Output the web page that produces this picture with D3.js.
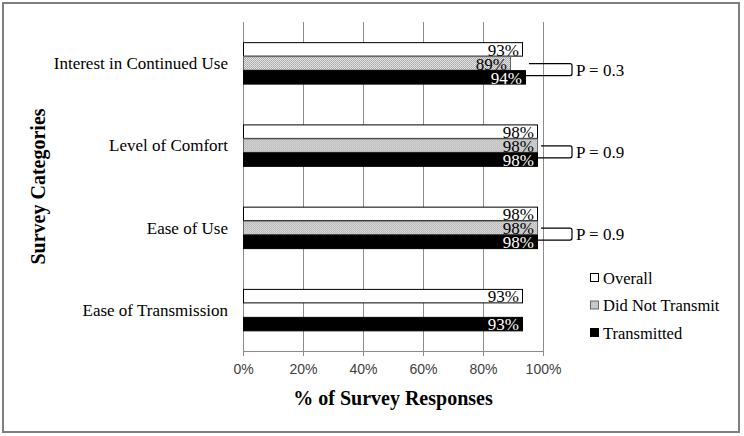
<!DOCTYPE html>
<html lang="en">
<head>
  <meta charset="utf-8">
  <title>Survey Responses</title>
  <script src="https://cdn.jsdelivr.net/npm/d3@7/dist/d3.min.js"></script>
  <style>
    body { margin: 0; background: #fff; }
    .serif { font-family: "Liberation Serif", "Times New Roman", serif; }
    .grid line { stroke: #8c8c8c; stroke-width: 1px; shape-rendering: crispEdges; }
    .axis--x text { font-family: "Liberation Sans", Arial, sans-serif; font-size: 14px; fill: #404040; }
    .axis--x path, .axis--x line { stroke: #8c8c8c; shape-rendering: crispEdges; }
  </style>
</head>
<body>
<svg width="744" height="436"></svg>
<script>
  // data
  var categories = ["Interest in Continued Use", "Level of Comfort", "Ease of Use", "Ease of Transmission"];
  var overall = [93, 98, 98, 93];
  var didNotTransmit = [89, 98, 98, null];
  var transmitted = [94, 98, 98, 93];
  var pLabels = ["P = 0.3", "P = 0.9", "P = 0.9", null];
  var seriesNames = ["Overall", "Did Not Transmit", "Transmitted"];
  var xTicks = [0, 20, 40, 60, 80, 100];

  var svg = d3.select("svg"),
      margin = {top: 22, left: 243, right: 201, bottom: 85},
      width = 744 - margin.left - margin.right,
      height = 436 - margin.top - margin.bottom;

  // dotted fill for "Did Not Transmit"
  var pat = svg.append("defs").append("pattern")
      .attr("id", "dots").attr("width", 2).attr("height", 2)
      .attr("patternUnits", "userSpaceOnUse");
  pat.append("rect").attr("width", 2).attr("height", 2).attr("fill", "#f0f0f0");
  pat.append("rect").attr("width", 1).attr("height", 1).attr("fill", "#9a9a9a");
  pat.append("rect").attr("x", 1).attr("y", 1).attr("width", 1).attr("height", 1).attr("fill", "#a8a8a8");

  var fills = ["#fff", "url(#dots)", "#000"],
      strokes = ["#000", "#666", "#000"],
      textFill = ["#000", "#000", "#fff"];

  // outer frame
  svg.append("rect")
      .attr("x", 3).attr("y", 3).attr("width", 736).attr("height", 429)
      .attr("fill", "none").attr("stroke", "#7f7f7f").attr("stroke-width", 2);

  var g = svg.append("g").attr("transform", "translate(" + margin.left + "," + margin.top + ")");

  var x = d3.scaleLinear().domain([0, 100]).range([0, width]);
  var y = d3.scaleBand().domain(categories).range([0, height])
      .paddingInner(0.49).paddingOuter(0.245);
  var ySub = d3.scaleBand().domain(seriesNames).range([0, y.bandwidth()]);

  g.append("g").attr("class", "grid")
    .selectAll("line").data(xTicks).enter().append("line")
      .attr("x1", function(d) { return x(d) + 0.5; })
      .attr("x2", function(d) { return x(d) + 0.5; })
      .attr("y1", 0).attr("y2", height);

  g.append("g")
      .attr("class", "axis axis--x")
      .attr("transform", "translate(0," + height + ")")
      .call(d3.axisBottom(x).tickValues(xTicks).tickSize(5).tickPadding(8)
        .tickFormat(function(d) { return d + "%"; }))
      .call(function(a) { a.select(".domain").attr("d", "M0.5,5V0.5H" + (width + 0.5) + "V5"); });

  var rows = categories.map(function(c, i) {
    return {cat: c, vals: [overall[i], didNotTransmit[i], transmitted[i]], p: pLabels[i]};
  });

  var grp = g.selectAll(".cat").data(rows).enter().append("g")
      .attr("class", "cat serif")
      .attr("transform", function(d) { return "translate(0," + y(d.cat) + ")"; });

  grp.each(function(d) {
    var sel = d3.select(this);
    d.vals.forEach(function(v, k) {
      if (v == null) return;
      var yy = ySub(seriesNames[k]);
      sel.append("rect")
          .attr("x", 0.5).attr("y", yy + 0.5)
          .attr("width", x(v)).attr("height", ySub.bandwidth() - 0.5)
          .attr("fill", fills[k]).attr("stroke", strokes[k]).attr("stroke-width", 1);
      sel.append("text")
          .attr("class", "serif")
          .attr("x", x(v) - 3).attr("y", yy + ySub.bandwidth() - 0.5)
          .attr("text-anchor", "end")
          .style("font-size", "17px")
          .attr("fill", textFill[k])
          .text(v + "%");
    });

    if (d.p) {
      var x0 = x(d3.max(d.vals)) + 4, x1 = x(100) + 29,
          ya = ySub(seriesNames[1]) + ySub.bandwidth() / 2 + 0.5,
          yb = ySub(seriesNames[2]) + ySub.bandwidth() / 2 - 1.5;
      sel.append("path")
          .attr("d", "M" + x0 + "," + ya + "H" + (x1 - 2) + "Q" + x1 + "," + ya + " " + x1 + "," + (ya + 2) +
                "V" + (yb - 2) + "Q" + x1 + "," + yb + " " + (x1 - 2) + "," + yb + "H" + (x0 - 3))
          .attr("fill", "none").attr("stroke", "#000").attr("stroke-width", 1.2);
      sel.append("text")
          .attr("class", "serif")
          .attr("x", x1 + 4).attr("y", (ya + yb) / 2)
          .attr("dy", "0.35em")
          .style("font-size", "17px")
          .text(d.p);
    }

    sel.append("text")
        .attr("class", "serif")
        .attr("x", -15).attr("y", ySub(seriesNames[1]) + ySub.bandwidth() / 2)
        .attr("dy", "0.35em")
        .attr("text-anchor", "end")
        .style("font-size", "17px")
        .text(d.cat);
  });

  // axis titles
  svg.append("text")
      .attr("class", "serif")
      .attr("x", margin.left + width / 2).attr("y", 405)
      .attr("text-anchor", "middle")
      .style("font-size", "20px").style("font-weight", "bold")
      .text("% of Survey Responses");

  svg.append("text")
      .attr("class", "serif")
      .attr("transform", "translate(45," + (margin.top + height / 2) + ") rotate(-90)")
      .attr("text-anchor", "middle")
      .style("font-size", "20px").style("font-weight", "bold")
      .text("Survey Categories");

  // legend
  var legend = svg.append("g").attr("transform", "translate(590,278)");
  seriesNames.forEach(function(name, k) {
    var row = legend.append("g").attr("transform", "translate(0," + (k * 27.5) + ")");
    row.append("rect")
        .attr("x", 0.5).attr("y", -4.5).attr("width", 8).attr("height", 8)
        .attr("fill", fills[k]).attr("stroke", strokes[k]);
    row.append("text")
        .attr("class", "serif")
        .attr("x", 13).attr("y", 0).attr("dy", "0.35em")
        .style("font-size", "16.5px")
        .text(name);
  });
</script>
</body>
</html>
